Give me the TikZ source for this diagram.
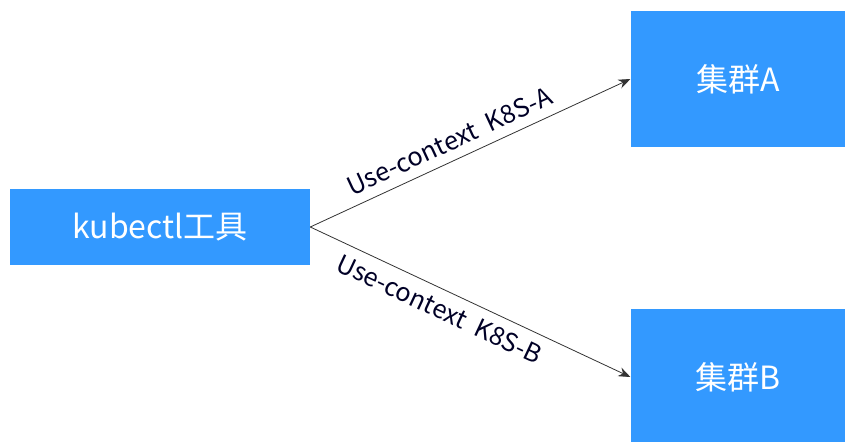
\documentclass[tikz,border=0pt]{standalone}
\usepackage{fontspec}
\setmainfont{Noto Sans CJK SC}
\usetikzlibrary{arrows.meta,positioning}
\definecolor{boxblue}{HTML}{3399FF}

\begin{document}
\begin{tikzpicture}[
    x=0.75pt, y=-0.75pt,
    box/.style={fill=boxblue, text=white, inner sep=0pt, font=\fontsize{24}{28}\selectfont},
    arrow/.style={-{Stealth[length=9pt, width=7pt]}, draw=black!80, semithick},
    label/.style={font=\fontsize{19}{22}\selectfont, text=black!85!blue, sloped, inner sep=7pt}
  ]
  \useasboundingbox (0,0) rectangle (845,442);
  % Nodes
  \node[box, minimum width=225pt, minimum height=57pt] (kubectl) at (160,227) {kubectl工具};
  \node[box, minimum width=161pt, minimum height=102pt] (clusterA) at (738,79) {集群A};
  \node[box, minimum width=161pt, minimum height=102pt] (clusterB) at (738,377) {集群B};

  % Arrows
  \draw[arrow] (kubectl.east) -- node[label, above, pos=0.46] {Use-context\ \ K8S-A} (clusterA.west);
  \draw[arrow] (kubectl.east) -- node[label, below, pos=0.43] {Use-context\ \ K8S-B} (clusterB.west);
\end{tikzpicture}
\end{document}
